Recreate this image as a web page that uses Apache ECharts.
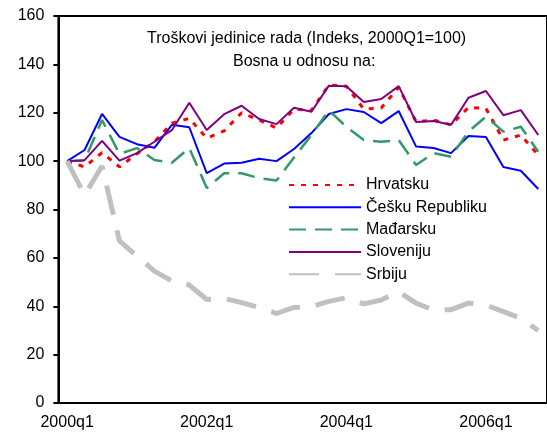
<!DOCTYPE html>
<html>
<head>
<meta charset="utf-8">
<script src="https://cdn.jsdelivr.net/npm/echarts@6/dist/echarts.min.js"></script>
<style>
  html, body { margin: 0; padding: 0; background: #fff; }
  #chart { width: 547px; height: 443px; }
</style>
</head>
<body>
<div id="chart"></div>
<script>
// kvartali 2000q1 - 2006q4
var quarters = [
  "2000q1", "2000q2", "2000q3", "2000q4",
  "2001q1", "2001q2", "2001q3", "2001q4",
  "2002q1", "2002q2", "2002q3", "2002q4",
  "2003q1", "2003q2", "2003q3", "2003q4",
  "2004q1", "2004q2", "2004q3", "2004q4",
  "2005q1", "2005q2", "2005q3", "2005q4",
  "2006q1", "2006q2", "2006q3", "2006q4"
];
var yTicks = [0, 20, 40, 60, 80, 100, 120, 140, 160];

var hrvatsku = [100, 97.6, 103.5, 97.6, 103, 108, 115.7, 117.7, 109.5, 112.5, 120, 117,
  113.7, 121.5, 121, 131.5, 131, 121.5, 122, 130.5, 116.3, 117, 115, 122.2,
  121.8, 108.7, 110.8, 102.5];
var ceskuRepubliku = [100, 104.6, 119.5, 110, 107, 105.5, 115, 114, 95, 99, 99.3, 101,
  100, 105, 111.6, 119.5, 121.5, 120.3, 115.7, 120.7, 106, 105.4, 103.3, 110.4,
  110, 97.6, 96, 88.5];
var madarsku = [100, 100.3, 117, 103, 105.4, 100.5, 99.3, 105.4, 88.9, 95, 95, 93,
  92, 101.5, 110.8, 121, 114.2, 108.7, 108, 108.7, 98.4, 103.3, 101.8, 112.2,
  118.4, 112.2, 114.2, 103.9];
var sloveniju = [100, 100.4, 108.4, 100.2, 103.3, 108, 112.8, 124.1, 112.9, 119.4, 122.9, 117.4,
  115.3, 122.1, 120.4, 131.2, 131, 124.4, 125.7, 131, 116.2, 116.6, 115, 126.2,
  129, 119, 121.1, 110.8];
var srbiju = [100, 86, 98, 67, 60.8, 54.5, 50.5, 48.8, 42.8, 43.2, 41.5, 39.5,
  37, 39.5, 39.8, 42, 43.5, 41, 42.6, 46, 41.3, 38.4, 38.6, 41.3,
  40.5, 37.8, 35, 30];

var font = "Liberation Sans";
var chart = echarts.init(document.getElementById("chart"));

chart.setOption({
  backgroundColor: "#fff",
  animation: false,
  textStyle: { fontFamily: font },
  grid: {
    left: 58.4,
    right: -5.6,
    top: 16,
    bottom: 40,
    show: true,
    borderColor: "#000",
    borderWidth: 2,
    backgroundColor: "transparent"
  },
  graphic: [
    {
      type: "text", left: 147, top: 31,
      style: { text: "Troškovi jedinice rada (Indeks, 2000Q1=100)", fill: "#000", font: "16px " + font }
    },
    {
      type: "text", left: 233, top: 54,
      style: { text: "Bosna u odnosu na:", fill: "#000", font: "16px " + font }
    }
  ],
  legend: {
    orient: "vertical",
    left: 288,
    top: 177,
    itemWidth: 72,
    itemHeight: 14,
    itemGap: 6.3,
    padding: 0,
    itemStyle: { opacity: 0, borderWidth: 0 },
    textStyle: { fontSize: 16, color: "#000", fontFamily: font },
    data: ["Hrvatsku", "Češku Republiku", "Mađarsku", "Sloveniju", "Srbiju"]
  },
  xAxis: {
    type: "category",
    data: quarters,
    boundaryGap: true,
    axisLine: { lineStyle: { color: "#000", width: 2 } },
    axisTick: { interval: 3, inside: true, length: 6, lineStyle: { color: "#000", width: 2 } },
    axisLabel: { interval: 7, color: "#000", fontSize: 16, margin: 12, fontFamily: font },
    splitLine: { show: false }
  },
  yAxis: {
    type: "value",
    min: yTicks[0],
    max: yTicks[yTicks.length - 1],
    interval: 20,
    axisLine: { show: true, lineStyle: { color: "#000", width: 2 } },
    axisTick: { show: true, length: 5, lineStyle: { color: "#000", width: 2 } },
    axisLabel: { color: "#000", fontSize: 16, margin: 14, fontFamily: font },
    splitLine: { show: false }
  },
  series: [
    {
      name: "Hrvatsku", type: "line", data: hrvatsku, symbol: "none",
      itemStyle: { color: "#ff0000" },
      lineStyle: { color: "#ff0000", width: 3, type: [5, 7] }
    },
    {
      name: "Češku Republiku", type: "line", data: ceskuRepubliku, symbol: "none",
      itemStyle: { color: "#0000ff" },
      lineStyle: { color: "#0000ff", width: 2 }
    },
    {
      name: "Mađarsku", type: "line", data: madarsku, symbol: "none",
      itemStyle: { color: "#339966" },
      lineStyle: { color: "#339966", width: 2.5, type: [17, 9] }
    },
    {
      name: "Sloveniju", type: "line", data: sloveniju, symbol: "none",
      itemStyle: { color: "#800080" },
      lineStyle: { color: "#800080", width: 2 }
    },
    {
      name: "Srbiju", type: "line", data: srbiju, symbol: "none",
      itemStyle: { color: "#c0c0c0" },
      lineStyle: { color: "#c0c0c0", width: 5, type: [30, 16] }
    }
  ]
});
</script>
</body>
</html>
